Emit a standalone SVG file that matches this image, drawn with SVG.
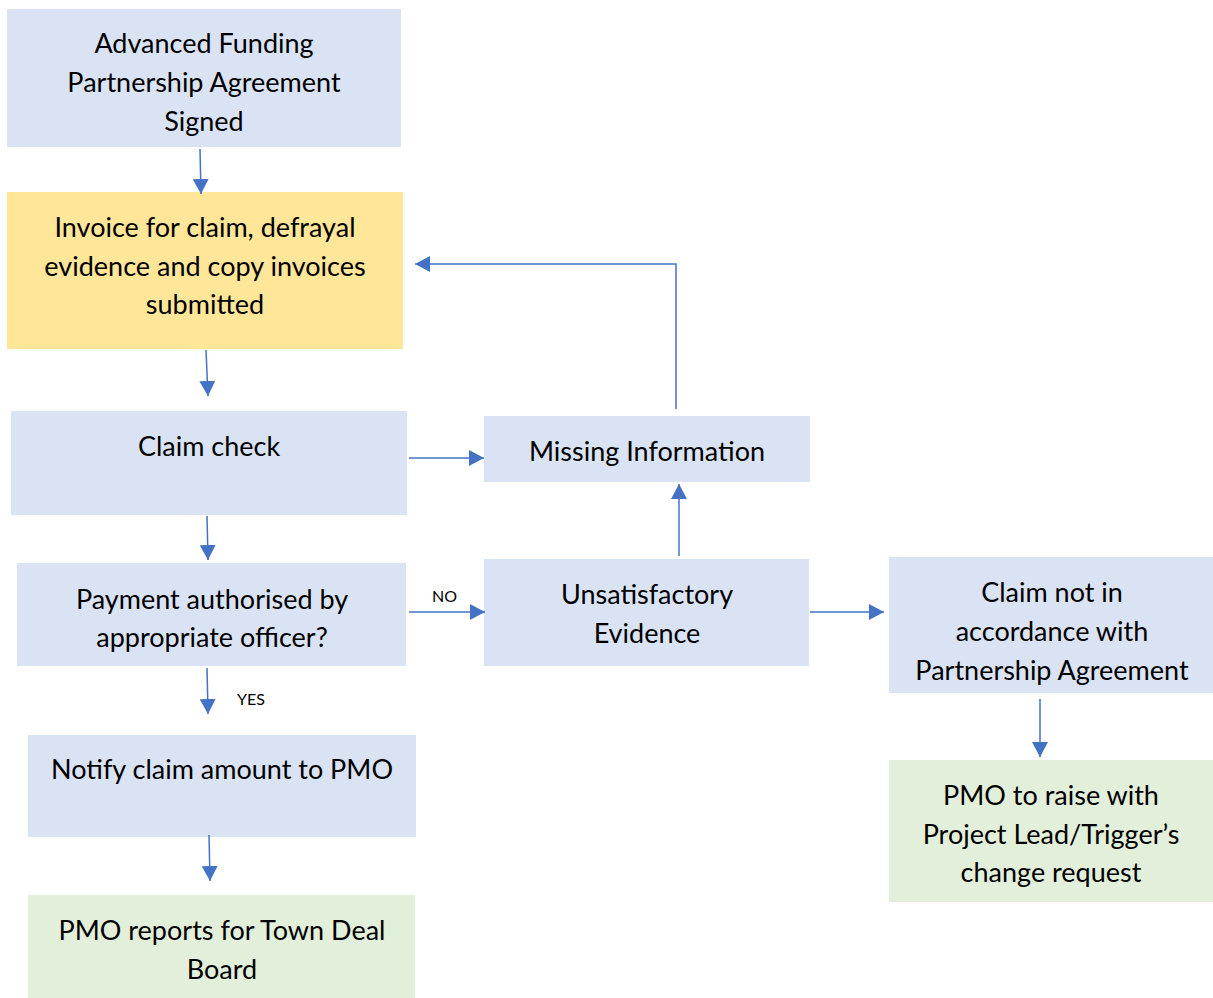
<svg xmlns="http://www.w3.org/2000/svg" width="1213" height="998" viewBox="0 0 1213 998">
<defs>
<marker id="ah" markerUnits="userSpaceOnUse" markerWidth="16" markerHeight="16" refX="15" refY="8" orient="auto">
<path d="M0,0 L15,8 L0,16 Z" fill="#4472c4"/>
</marker>
<style>
.blue{fill:#dae3f3}
.yel{fill:#ffe699}
.grn{fill:#e2efda}
text{font-family:Lato,"Open Sans","Liberation Sans",sans-serif;font-size:27px;fill:#000;text-anchor:middle;dominant-baseline:central}
.lbl{font-size:16px;text-anchor:start}
.c{fill:none;stroke:#4472c4;stroke-width:1.5;marker-end:url(#ah)}
</style>
</defs>
<rect width="1213" height="998" fill="#fff"/>
<g id="n1"><rect class="blue" x="7" y="9" width="394" height="138"/>
<text x="204" y="42">Advanced Funding</text><text x="204" y="81">Partnership Agreement</text><text x="204" y="120">Signed</text></g>
<g id="n2"><rect class="yel" x="7" y="192" width="396" height="157"/>
<text x="205" y="226">Invoice for claim, defrayal</text><text x="205" y="265">evidence and copy invoices</text><text x="205" y="303">submitted</text></g>
<g id="n3"><rect class="blue" x="11" y="411" width="396" height="104"/>
<text x="209" y="445">Claim check</text></g>
<g id="n4"><rect class="blue" x="17" y="563" width="389" height="103"/>
<text x="212" y="598">Payment authorised by</text><text x="212" y="636">appropriate officer?</text></g>
<g id="n5"><rect class="blue" x="28" y="735" width="388" height="102"/>
<text x="222" y="768">Notify claim amount to PMO</text></g>
<g id="n6"><rect class="grn" x="28" y="895" width="387" height="103"/>
<text x="222" y="929">PMO reports for Town Deal</text><text x="222" y="968">Board</text></g>
<g id="n7"><rect class="blue" x="484" y="416" width="326" height="66"/>
<text x="647" y="450">Missing Information</text></g>
<g id="n8"><rect class="blue" x="484" y="559" width="325" height="107"/>
<text x="647" y="593">Unsatisfactory</text><text x="647" y="632">Evidence</text></g>
<g id="n9"><rect class="blue" x="889" y="557" width="324" height="136"/>
<text x="1052" y="591">Claim not in</text><text x="1052" y="630">accordance with</text><text x="1052" y="669">Partnership Agreement</text></g>
<g id="n10"><rect class="grn" x="889" y="760" width="324" height="142"/>
<text x="1051" y="794">PMO to raise with</text><text x="1051" y="833">Project Lead/Trigger’s</text><text x="1051" y="871">change request</text></g>
<g id="connectors">
<line class="c" x1="200" y1="149" x2="201" y2="194"/>
<line class="c" x1="206" y1="350" x2="208" y2="396"/>
<line class="c" x1="207" y1="516" x2="208" y2="560"/>
<line class="c" x1="207" y1="668" x2="208" y2="714"/>
<line class="c" x1="209" y1="835" x2="210" y2="881"/>
<line class="c" x1="409" y1="458" x2="484" y2="458"/>
<line class="c" x1="409" y1="612" x2="485" y2="612"/>
<line class="c" x1="679" y1="556" x2="679" y2="484"/>
<polyline class="c" points="676,409 676,264 415,264"/>
<line class="c" x1="810" y1="612" x2="884" y2="612"/>
<line class="c" x1="1040" y1="699" x2="1040" y2="757"/>
<text class="lbl" x="432" y="595">NO</text>
<text class="lbl" x="237" y="698">YES</text>
</g>
</svg>
